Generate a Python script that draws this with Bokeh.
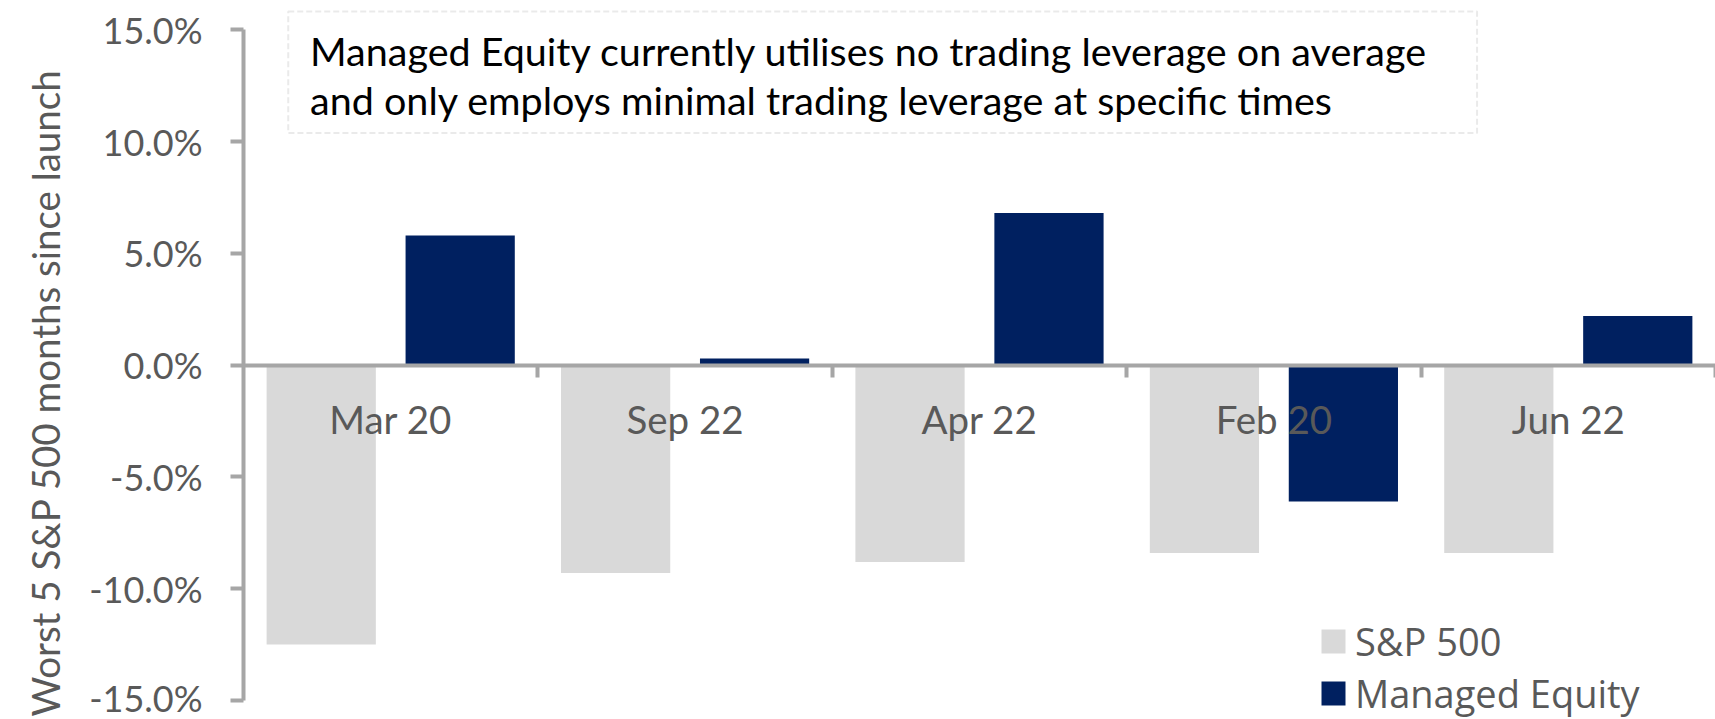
import numpy as np
from bokeh.plotting import figure
from bokeh.models import (Range1d, LinearAxis, FixedTicker, PrintfTickFormatter,
                          Label, BoxAnnotation, Legend, LegendItem, ColumnDataSource, Title)
from bokeh.embed import file_html
from bokeh.resources import INLINE

# ---- data ----
months = ["Mar 20", "Sep 22", "Apr 22", "Feb 20", "Jun 22"]
sp500 = [-12.5, -9.3, -8.8, -8.4, -8.4]
managed = [5.8, 0.3, 6.8, -6.1, 2.2]
y_ticks = [-15, -10, -5, 0, 5, 10, 15]
series_names = ["S&P 500", "Managed Equity"]
note_lines = ["Managed Equity currently utilises no trading leverage on average",
              "and only employs minimal trading leverage at specific times"]
y_title = "Worst 5 S&P 500 months since launch"

GREY = "#D9D9D9"
NAVY = "#002060"
AXIS = "#A6A6A6"
TXT = "#595959"

p = figure(width=1715, height=719, output_backend="svg", toolbar_location=None,
           x_range=Range1d(0, len(months)), y_range=Range1d(-15.85, 16.31),
           x_axis_type=None, y_axis_type=None,
           min_border_left=243, min_border_right=0, min_border_top=0, min_border_bottom=0,
           outline_line_color=None)

centers = np.arange(len(months)) + 0.5
src = ColumnDataSource(dict(x_sp=centers - 0.236, x_me=centers + 0.236, sp=sp500, me=managed))
r1 = p.vbar(x="x_sp", top="sp", bottom=0, width=0.371, source=src,
            fill_color=GREY, line_color=None)
r2 = p.vbar(x="x_me", top="me", bottom=0, width=0.371, source=src,
            fill_color=NAVY, line_color=None)

# y axis
yaxis = LinearAxis(ticker=FixedTicker(ticks=y_ticks),
                   formatter=PrintfTickFormatter(format="%.1f%%"),
                   bounds=(-15, 15),
                   axis_line_color=AXIS, axis_line_width=4,
                   major_tick_line_color=AXIS, major_tick_line_width=4,
                   major_tick_out=13, major_tick_in=0,
                   minor_tick_line_color=None,
                   major_label_standoff=28,
                   major_label_text_font="Lato", major_label_text_font_size="36px",
                   major_label_text_color=TXT)
p.add_layout(yaxis, "left")

# y title
p.add_layout(Title(text=y_title, align="left", offset=3, standoff=37,
                   text_font="Lato", text_font_size="38.5px", text_font_style="normal",
                   text_color=TXT), "left")

# x axis crossing at zero
xaxis = LinearAxis(ticker=FixedTicker(ticks=list(centers), minor_ticks=list(range(1, len(months) + 1))),
                   fixed_location=0, bounds=(0, len(months)),
                   major_label_overrides={float(c): m for c, m in zip(centers, months)},
                   axis_line_color=AXIS, axis_line_width=4,
                   major_tick_line_color=None, major_tick_out=0, major_tick_in=0,
                   minor_tick_line_color=AXIS, minor_tick_line_width=4,
                   minor_tick_out=12, minor_tick_in=0,
                   major_label_standoff=19,
                   major_label_text_font="Lato", major_label_text_font_size="38.5px",
                   major_label_text_color=TXT)
p.add_layout(xaxis, "below")

# note box
p.add_layout(BoxAnnotation(left=0.152, right=4.19, top=15.82, bottom=10.38,
                           fill_color=None, fill_alpha=0,
                           line_color="#B8B8B8", line_dash="6 3", line_width=2))
for ly, t in zip([14.07, 11.88], note_lines):
    p.add_layout(Label(x=0.226, y=ly, text=t, text_baseline="alphabetic",
                       text_font="Lato", text_font_size="39.5px", text_color="#000000"))

legend = Legend(items=[LegendItem(label=series_names[0], renderers=[r1]),
                       LegendItem(label=series_names[1], renderers=[r2])],
                location=(1075, 0), orientation="vertical",
                glyph_width=30, glyph_height=30, label_standoff=7,
                label_text_font="Open Sans", label_text_font_size="38px",
                label_text_color=TXT, spacing=0, padding=0, margin=0,
                border_line_color=None, background_fill_alpha=0)
p.add_layout(legend)

open("out.html", "w").write(file_html(p, INLINE))
